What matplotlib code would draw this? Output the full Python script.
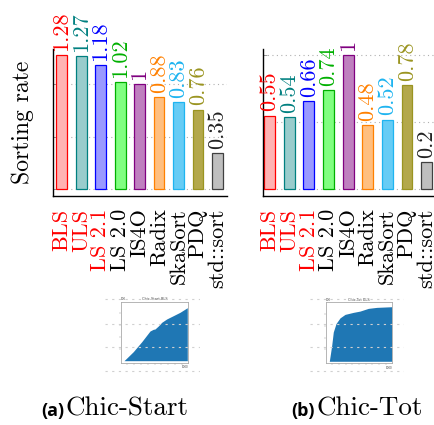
import matplotlib
matplotlib.use("Agg")
import matplotlib.pyplot as plt

plt.rcParams['axes.unicode_minus'] = False

# Sorter names and their styling
sorters = ["BLS", "ULS", "LS 2.1", "LS 2.0", "IS4O", "Radix", "SkaSort", "PDQ", "std::sort"]
label_colors = ["red", "red", "red", "black", "black", "black", "black", "black", "black"]
edge_colors = ["#FF0000", "#008080", "#0000FF", "#00B000", "#800080",
               "#FF8000", "#1EB4F0", "#9A9420", "#404040"]
fill_colors = ["#FFB3B3", "#99CCCC", "#9999FF", "#80FF80", "#BF80BF",
               "#FFBF80", "#66CCF5", "#B3A84B", "#BFBFBF"]
value_colors = ["#FF0000", "#008080", "#0000FF", "#00B000", "#800080",
                "#FF8000", "#1EB4F0", "#9A9420", "#222222"]

# Sorting rates
chic_start_rates = [1.28, 1.27, 1.18, 1.02, 1.0, 0.88, 0.83, 0.76, 0.35]
chic_tot_rates = [0.55, 0.54, 0.66, 0.74, 1.0, 0.48, 0.52, 0.78, 0.2]
chic_start_labels = ["1.28", "1.27", "1.18", "1.02", "1", "0.88", "0.83", "0.76", "0.35"]
chic_tot_labels = ["0.55", "0.54", "0.66", "0.74", "1", "0.48", "0.52", "0.78", "0.2"]

# Thumbnail progress curves (normalised time vs. sorted fraction)
start_curve_x = [0.049, 0.186, 0.311, 0.433, 0.482, 0.507, 0.556, 0.607, 0.680, 0.778, 0.877, 0.985]
start_curve_y = [0.0, 0.153, 0.322, 0.503, 0.532, 0.537, 0.588, 0.651, 0.707, 0.763, 0.820, 0.898]
tot_curve_x = [0.054, 0.090, 0.114, 0.155, 0.215, 0.290, 0.414, 0.515, 0.640, 0.766, 0.991]
tot_curve_y = [0.0, 0.269, 0.497, 0.640, 0.736, 0.795, 0.829, 0.851, 0.897, 0.914, 0.925]

W, H = 435.0, 425.0
fig = plt.figure(figsize=(W / 100, H / 100), dpi=100)

SERIF = "cmr10"


def px_rect(x0, y0, x1, y1):
    return [x0 / W, 1 - y1 / H, (x1 - x0) / W, (y1 - y0) / H]


def bar_panel(rect, values, texts, xlim, ylim):
    ax = fig.add_axes(rect)
    xs = list(range(len(values)))
    ax.bar(xs, values, width=0.56, color=fill_colors, edgecolor=edge_colors,
           linewidth=0.9, zorder=2)
    for x, v, t, c in zip(xs, values, texts, value_colors):
        ax.annotate(t, (x, v), xytext=(0, 3), textcoords="offset points",
                    rotation=90, ha="center", va="bottom", color=c,
                    family=SERIF, fontsize=16, annotation_clip=False, zorder=5)
    ax.set_xlim(*xlim)
    ax.set_ylim(*ylim)
    ax.set_yticks([0, 0.5, 1.0])
    ax.set_yticklabels([])
    ax.yaxis.grid(True, linestyle=(0, (1, 3)), color="#b0b0b0", linewidth=0.8)
    ax.set_axisbelow(True)
    ax.tick_params(axis="y", direction="in", length=3, width=0.6, color="#888888")
    ax.set_xticks(xs)
    ax.set_xticklabels(sorters, rotation=90, family=SERIF, fontsize=16)
    for lab, c in zip(ax.get_xticklabels(), label_colors):
        lab.set_color(c)
    ax.tick_params(axis="x", length=0, pad=9)
    for s in ("top", "right"):
        ax.spines[s].set_visible(False)
    for s in ("left", "bottom"):
        ax.spines[s].set_linewidth(1.0)
        ax.spines[s].set_color("black")
    ax.patch.set_alpha(0)
    return ax


ax1 = bar_panel(px_rect(53.3, 49, 227, 196), chic_start_rates, chic_start_labels,
                (-0.43, 8.49), (-0.062, 1.336))
ax2 = bar_panel(px_rect(262.7, 49, 436.4, 196), chic_tot_rates, chic_tot_labels,
                (-0.36, 8.5), (-0.05, 1.047))

fig.text(23 / W, 1 - 122.5 / H, "Sorting rate", rotation=90, ha="center",
         va="center", family=SERIF, fontsize=17)


def thumbnail(outer, inner, xs, ys, title):
    iax = fig.add_axes(px_rect(*inner))
    iax.fill_between(xs, 0, ys, color="#1f77b4", linewidth=0)
    iax.set_xlim(0, 1)
    iax.set_ylim(-0.034, 1.0)
    iax.set_xticks([0.1 * k for k in range(1, 10)])
    iax.set_yticks([0.2 * k for k in range(1, 5)])
    iax.set_xticklabels([])
    iax.set_yticklabels([])
    iax.tick_params(direction="out", length=1.2, width=0.3, color="#999999")
    for s in iax.spines.values():
        s.set_color("#aaaaaa")
        s.set_linewidth(0.6)
    iax.set_title(title, fontsize=2.5, pad=1, color="#444444")
    iax.text(0.0, 1.01, "100", transform=iax.transAxes, fontsize=2,
             ha="left", va="bottom", color="#444444")
    iax.text(1.0, -0.04, "1000", transform=iax.transAxes, fontsize=2,
             ha="right", va="top", color="#444444")
    oax = fig.add_axes(px_rect(*outer), zorder=3)
    oax.set_xlim(0, 1)
    oax.set_ylim(0, 1)
    for yv in (0.974, 0.651, 0.342, 0.026):
        oax.axhline(yv, color="#d0d0d0", linestyle=(0, (2, 4)), linewidth=0.8)
    oax.axis("off")


thumbnail((105, 297, 200, 373), (120.7, 301.7, 188.3, 362.7),
          start_curve_x, start_curve_y, "Chic-Start BLS")
thumbnail((310, 297, 404, 373), (325.7, 302.3, 392.3, 363.3),
          tot_curve_x, tot_curve_y, "Chic-Tot BLS")

base = 1 - 416 / H
fig.text(41.7 / W, base, "(a)", family="Open Sans", fontweight="bold",
         fontsize=13, va="baseline")
fig.text(66 / W, base, "Chic-Start", family=SERIF, fontsize=19.5, va="baseline")
fig.text(291.7 / W, base, "(b)", family="Open Sans", fontweight="bold",
         fontsize=13, va="baseline")
fig.text(316.7 / W, base, "Chic-Tot", family=SERIF, fontsize=19.5, va="baseline")

fig.savefig("out.png", dpi=100)
